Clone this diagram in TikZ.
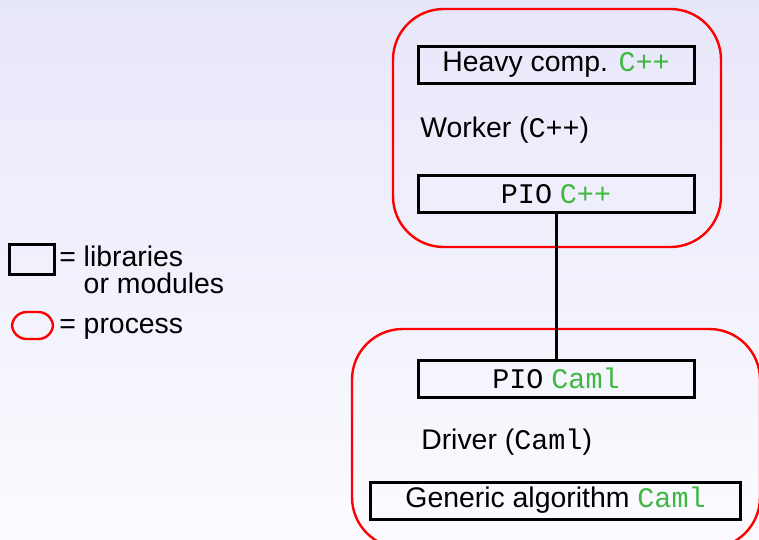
\documentclass[tikz,border=0pt]{standalone}
\usepackage{fontspec}
\setmainfont{Liberation Sans}
\setmonofont{Liberation Mono}
\usepackage{tikz}
\definecolor{langgreen}{RGB}{64,184,64}
\definecolor{bgtop}{RGB}{231,231,250}
\definecolor{bgbottom}{RGB}{251,251,255}
\newcommand{\lang}[1]{\texttt{\textcolor{langgreen}{#1}}}

\begin{document}
\begin{tikzpicture}[x=0.75pt, y=-0.75pt,
		every node/.style={font=\fontsize{21.3pt}{20.25pt}\selectfont},
		module/.style={rectangle, draw=black, line width=2.25pt, minimum width=207pt, minimum height=27.75pt, inner sep=0pt},
		process/.style={draw=red, line width=1.8pt, rounded corners=38pt}]
		% Background
		\shade[top color=bgtop, bottom color=bgbottom] (0,0) rectangle (759,539);
		\useasboundingbox (0,0) rectangle (759,539);
		
		% Worker process
		\draw[process] (393,9) rectangle (721,247);
		\node[module] (heavy) at (556,64.5) {Heavy comp. \lang{C++}};
		\node[anchor=base west, inner sep=0pt] (worker) at (420,137) {Worker (\texttt{C++})};
		\node[module] (piocpp) at (556,194) {\texttt{PIO} \lang{C++}};
		
		% Driver process
		\draw[process] (352,329) rectangle (760,548);
		\node[module] (piocaml) at (556,378.5) {\texttt{PIO} \lang{Caml}};
		\node[anchor=base west, inner sep=0pt] (driver) at (421,449) {Driver (\texttt{Caml})};
		\node[module, minimum width=278pt] (generic) at (555.5,500.5) {Generic algorithm \lang{Caml}};
		
		% Link between processes
		\draw[line width=2.25pt] (piocpp) -- (piocaml);
		
		% Legend
		\node[rectangle, draw=black, line width=2.25pt, minimum width=33.75pt, minimum height=22.5pt, inner sep=0pt] (keymodule) at (31.5,259) {};
		\node[anchor=base west, inner sep=0pt, align=left] (keymoduletext) at (59,293) {= libraries\\\hphantom{=\ }or modules};
		\node[draw=red, line width=1.8pt, rounded corners=11pt, minimum width=30.75pt, minimum height=20.25pt, inner sep=0pt] (keyprocess) at (32.5,325.5) {};
		\node[anchor=base west, inner sep=0pt] (keyprocesstext) at (59,333) {= process};
	\end{tikzpicture}
\end{document}
